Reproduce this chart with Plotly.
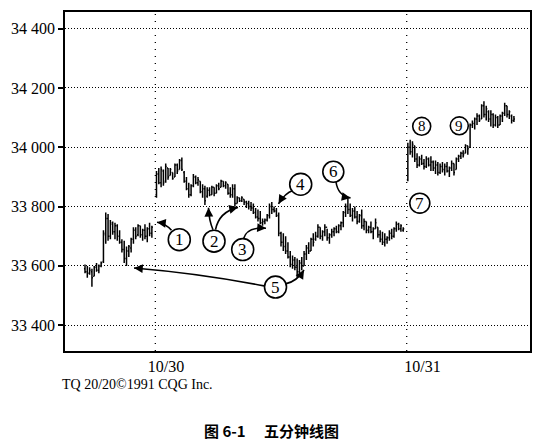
import plotly.graph_objects as go

# ---------------- data (5-minute bars) ----------------
# session 1: end of 10/29
s1_high = [33605, 33600, 33595, 33590, 33600, 33610, 33605, 33615, 33720, 33780,
           33775, 33755, 33750, 33745, 33740, 33720, 33690, 33685, 33665, 33670,
           33695, 33730, 33730, 33740, 33735, 33725, 33740, 33730, 33745, 33735]
s1_low = [33575, 33560, 33570, 33530, 33565, 33580, 33575, 33595, 33610, 33675,
          33685, 33690, 33705, 33690, 33685, 33675, 33645, 33610, 33600, 33630,
          33645, 33675, 33690, 33700, 33695, 33685, 33690, 33680, 33700, 33695]
s1_open = [33590, 33580, 33575, 33580, 33565, 33595, 33585, 33600, 33615, 33705,
           33760, 33700, 33740, 33715, 33735, 33700, 33680, 33655, 33625, 33650,
           33660, 33690, 33720, 33705, 33735, 33705, 33720, 33700, 33725, 33710]
s1_close = [33580, 33575, 33585, 33560, 33595, 33585, 33600, 33610, 33710, 33760,
            33700, 33745, 33715, 33735, 33700, 33680, 33655, 33625, 33650, 33665,
            33690, 33720, 33700, 33735, 33705, 33720, 33700, 33725, 33710, 33730]

# session 2: 10/30
s2_high = [33920, 33930, 33935, 33925, 33945, 33930, 33930, 33915, 33945, 33945,
           33960, 33965, 33920, 33900, 33880, 33875, 33910, 33905, 33900, 33885,
           33875, 33870, 33865, 33865, 33870, 33865, 33875, 33880, 33890, 33885,
           33885, 33875, 33865, 33875, 33875, 33835, 33830, 33835, 33825, 33820,
           33820, 33815, 33810, 33795, 33790, 33785, 33760, 33760, 33775, 33810,
           33815, 33800, 33795, 33780, 33715, 33710, 33700, 33680, 33650, 33635,
           33630, 33625, 33620, 33630, 33650, 33670, 33680, 33695, 33710, 33715,
           33740, 33730, 33720, 33740, 33725, 33710, 33725, 33730, 33735, 33740,
           33750, 33785, 33810, 33830, 33810, 33795, 33800, 33785, 33775, 33790,
           33760, 33750, 33735, 33750, 33730, 33760, 33730, 33720, 33715, 33710,
           33700, 33720, 33725, 33730, 33750, 33745, 33740, 33730]
s2_low = [33830, 33875, 33865, 33870, 33880, 33890, 33905, 33890, 33900, 33910,
          33925, 33920, 33880, 33855, 33830, 33835, 33865, 33875, 33870, 33845,
          33830, 33805, 33830, 33835, 33840, 33835, 33845, 33855, 33865, 33865,
          33860, 33840, 33830, 33830, 33800, 33810, 33815, 33815, 33805, 33795,
          33790, 33785, 33775, 33760, 33750, 33740, 33735, 33740, 33750, 33760,
          33775, 33780, 33765, 33700, 33665, 33650, 33640, 33625, 33595, 33590,
          33585, 33560, 33575, 33585, 33600, 33620, 33640, 33650, 33665, 33685,
          33695, 33690, 33685, 33700, 33685, 33675, 33695, 33700, 33710, 33710,
          33720, 33730, 33765, 33775, 33765, 33750, 33760, 33740, 33745, 33725,
          33720, 33710, 33710, 33710, 33690, 33725, 33695, 33680, 33670, 33665,
          33675, 33685, 33690, 33695, 33715, 33720, 33715, 33715]
s2_open = [33840, 33910, 33880, 33920, 33885, 33930, 33905, 33915, 33900, 33940,
           33925, 33955, 33915, 33885, 33860, 33840, 33870, 33900, 33880, 33885,
           33850, 33860, 33835, 33855, 33840, 33865, 33845, 33870, 33865, 33885,
           33870, 33875, 33845, 33840, 33860, 33810, 33830, 33820, 33825, 33815,
           33810, 33800, 33795, 33780, 33765, 33760, 33745, 33750, 33755, 33770,
           33800, 33790, 33785, 33770, 33710, 33680, 33665, 33650, 33630, 33605,
           33620, 33595, 33580, 33610, 33600, 33640, 33660, 33650, 33690, 33690,
           33700, 33730, 33700, 33715, 33730, 33695, 33705, 33715, 33725, 33715,
           33735, 33745, 33780, 33800, 33790, 33770, 33785, 33765, 33750, 33770,
           33735, 33750, 33720, 33730, 33715, 33725, 33730, 33705, 33690, 33680,
           33690, 33695, 33710, 33700, 33725, 33740, 33725, 33720]
s2_close = [33910, 33880, 33925, 33880, 33935, 33900, 33925, 33895, 33940, 33920,
            33955, 33925, 33885, 33860, 33840, 33870, 33900, 33880, 33890, 33850,
            33860, 33820, 33855, 33840, 33865, 33845, 33870, 33860, 33885, 33870,
            33880, 33845, 33840, 33860, 33810, 33830, 33820, 33830, 33815, 33810,
            33800, 33795, 33780, 33765, 33760, 33745, 33750, 33755, 33770, 33800,
            33790, 33785, 33770, 33710, 33680, 33665, 33650, 33630, 33605, 33620,
            33595, 33580, 33610, 33600, 33640, 33660, 33650, 33690, 33680, 33700,
            33730, 33700, 33715, 33730, 33695, 33705, 33715, 33725, 33715, 33735,
            33745, 33780, 33800, 33790, 33770, 33785, 33765, 33750, 33770, 33735,
            33750, 33720, 33730, 33715, 33725, 33745, 33705, 33690, 33680, 33690,
            33695, 33710, 33700, 33725, 33740, 33725, 33735, 33725]

# session 3: 10/31
s3_high = [34015, 34025, 34020, 34005, 33980, 33970, 33975, 33960, 33970, 33965,
           33970, 33955, 33955, 33950, 33945, 33950, 33945, 33950, 33935, 33955,
           33945, 33965, 33975, 33985, 33990, 34010, 34005, 34080, 34090, 34100,
           34115, 34110, 34145, 34155, 34140, 34125, 34125, 34115, 34110, 34105,
           34110, 34120, 34150, 34140, 34125, 34110, 34105]
s3_low = [33885, 33975, 33965, 33950, 33930, 33935, 33940, 33925, 33930, 33935,
          33920, 33920, 33910, 33905, 33910, 33915, 33905, 33915, 33900, 33920,
          33905, 33925, 33950, 33960, 33965, 33980, 33975, 34000, 34065, 34060,
          34075, 34085, 34095, 34100, 34090, 34085, 34070, 34065, 34070, 34065,
          34075, 34085, 34105, 34100, 34095, 34080, 34085]
s3_open = [33890, 34000, 33985, 34005, 33960, 33940, 33960, 33945, 33935, 33960,
           33940, 33950, 33930, 33940, 33915, 33935, 33925, 33935, 33920, 33930,
           33945, 33925, 33960, 33970, 33980, 33980, 34005, 34000, 34075, 34080,
           34095, 34105, 34095, 34140, 34110, 34120, 34095, 34110, 34075, 34100,
           34075, 34105, 34115, 34140, 34110, 34105, 34090]
s3_close = [34000, 33985, 34010, 33960, 33940, 33960, 33945, 33935, 33960, 33940,
            33950, 33930, 33940, 33915, 33935, 33925, 33935, 33920, 33930, 33945,
            33915, 33960, 33970, 33980, 33975, 34005, 33995, 34075, 34080, 34095,
            34105, 34090, 34140, 34110, 34130, 34095, 34110, 34075, 34100, 34075,
            34105, 34115, 34140, 34110, 34120, 34090, 34095]

ytick_vals = [33400, 33600, 33800, 34000, 34200, 34400]
ytick_text = ["33 400", "33 600", "33 800", "34 000", "34 200", "34 400"]
date_labels = ["10/30", "10/31"]
credit = "TQ 20/20\u00a91991 CQG Inc."
caption = "图 6-1\u2003 五分钟线图"

# ---------------- layout geometry (pixels) ----------------
W, H = 559, 443
PL, PR, PT, PB = 65, 530, 10, 351
FIRST_BAR_PX, SLOT_PX = 85.0, 2.306
Y_RANGE = [33313, 34456]


def px2slot(px):
    return (px - FIRST_BAR_PX) / SLOT_PX


def pp(px, py):
    return (px - PL) / (PR - PL), (PB - py) / (PB - PT)


# ---------------- build bar positions ----------------
sessions = [(s1_open, s1_high, s1_low, s1_close),
            (s2_open, s2_high, s2_low, s2_close),
            (s3_open, s3_high, s3_low, s3_close)]
xs, o, h, l, c = [], [], [], [], []
starts = []
pos = 0
for so, sh, sl, sc in sessions:
    starts.append(pos)
    for i in range(len(sh)):
        xs.append(pos + i)
    o += so; h += sh; l += sl; c += sc
    pos += len(sh) + 1

fig = go.Figure()
fig.add_trace(go.Ohlc(
    x=xs, open=o, high=h, low=l, close=c,
    increasing=dict(line=dict(color="black", width=1.5)),
    decreasing=dict(line=dict(color="black", width=1.5)),
    tickwidth=0.45, hoverinfo="skip", showlegend=False,
))

shapes = []
# session boundary dotted lines
for st in starts[1:]:
    shapes.append(dict(type="line", xref="x", yref="paper", x0=st - 0.5, x1=st - 0.5,
                       y0=0, y1=1, line=dict(color="black", width=1.3, dash="1px,6px"),
                       layer="below"))

# curved arrows (pixel geometry)
arrows = [
    ((171.5, 229.5), (165.0, 222.5), (157.0, 221.5)),   # 1
    ((213.0, 229.0), (209.0, 220.0), (208.5, 207.0)),   # 2a
    ((215.5, 229.0), (219.0, 211.0), (238.0, 206.5)),   # 2b
    ((243.5, 238.0), (247.0, 226.0), (266.0, 227.5)),   # 3
    ((293.0, 189.5), (285.0, 192.0), (278.5, 203.0)),   # 4
    ((264.0, 285.5), (200.0, 273.0), (134.0, 267.5)),   # 5a
    ((285.5, 283.5), (297.0, 281.0), (304.0, 269.5)),   # 5b
    ((336.0, 181.0), (338.0, 195.0), (350.5, 197.0)),   # 6
]
annotations = []
for (sx, sy), (cx, cy), (tx, ty) in arrows:
    a = pp(sx, sy); b = pp(cx, cy); t = pp(tx, ty)
    shapes.append(dict(type="path", xref="paper", yref="paper",
                       path=f"M {a[0]:.5f},{a[1]:.5f} Q {b[0]:.5f},{b[1]:.5f} {t[0]:.5f},{t[1]:.5f}",
                       line=dict(color="black", width=1.6), layer="above"))
    dx, dy = tx - cx, ty - cy
    n = (dx * dx + dy * dy) ** 0.5
    L = 7.0
    annotations.append(dict(xref="paper", yref="paper", x=t[0], y=t[1], text="",
                            showarrow=True, arrowhead=2, arrowsize=1.1, arrowwidth=1.6,
                            arrowcolor="black", ax=-dx / n * L, ay=-dy / n * L,
                            standoff=0, startstandoff=0))

# numbered circles (pixel geometry)
circles = [("1", 179.3, 239.0, 11), ("2", 214.0, 240.5, 11), ("3", 242.7, 249.0, 11),
           ("4", 300.7, 183.3, 11), ("5", 275.5, 286.7, 11), ("6", 333.3, 170.7, 10.5),
           ("7", 419.8, 202.3, 10), ("8", 421.7, 125.0, 9), ("9", 459.3, 124.5, 9)]
for lab, cx, cy, r in circles:
    x0, y0 = pp(cx - r, cy + r)
    x1, y1 = pp(cx + r, cy - r)
    shapes.append(dict(type="circle", xref="paper", yref="paper", x0=x0, y0=y0, x1=x1, y1=y1,
                       line=dict(color="black", width=1.6), fillcolor="white", layer="above"))
    px_, py_ = pp(cx, cy)
    annotations.append(dict(xref="paper", yref="paper", x=px_, y=py_, text=lab,
                            showarrow=False, xanchor="center", yanchor="middle",
                            font=dict(family="Liberation Serif", size=17 if r > 9.5 else 15,
                                      color="black")))

# credit and caption
cx_, cy_ = pp(60, 385)
annotations.append(dict(xref="paper", yref="paper", x=cx_, y=cy_, text=credit, showarrow=False,
                        xanchor="left", yanchor="middle",
                        font=dict(family="Liberation Serif", size=14, color="black")))
cx_, cy_ = pp(271, 431)
annotations.append(dict(xref="paper", yref="paper", x=cx_, y=cy_, text=f"<b>{caption}</b>",
                        showarrow=False, xanchor="center", yanchor="middle",
                        font=dict(family="Noto Sans CJK SC", size=15, color="black")))

date_tick_px = [166, 422.5]

fig.update_layout(
    width=W, height=H,
    margin=dict(l=PL, r=W - PR, t=PT, b=H - PB),
    paper_bgcolor="white", plot_bgcolor="white",
    shapes=shapes, annotations=annotations,
    font=dict(family="Liberation Serif", size=16, color="black"),
    xaxis=dict(range=[px2slot(PL), px2slot(PR)], rangeslider=dict(visible=False),
               showgrid=False, zeroline=False, showline=True, linecolor="black",
               linewidth=1.5, mirror=True, ticks="",
               tickvals=[px2slot(p) for p in date_tick_px], ticktext=date_labels,
               tickfont=dict(family="Liberation Serif", size=16)),
    yaxis=dict(range=Y_RANGE, showgrid=True, gridcolor="black", gridwidth=1,
               griddash="1px,2px", zeroline=False, showline=True, linecolor="black",
               linewidth=1.5, mirror=True, ticks="outside", ticklen=5, tickwidth=1.5,
               tickcolor="black", tickvals=ytick_vals, ticktext=ytick_text,
               tickfont=dict(family="Liberation Serif", size=16)),
)

fig.write_html("out.html", config={"displayModeBar": False},
               post_script="document.body.style.margin='0px';document.body.style.overflow='hidden';")
